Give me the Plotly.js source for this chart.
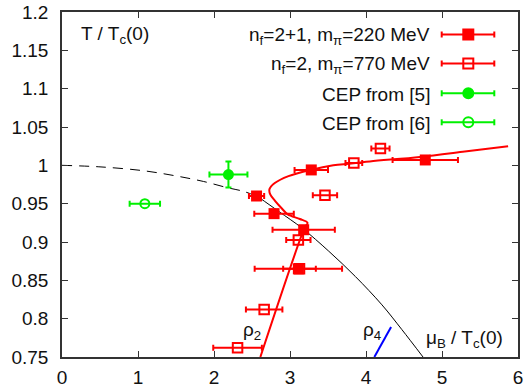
<!DOCTYPE html>
<html>
<head>
<meta charset="utf-8">
<script src="https://cdn.plot.ly/plotly-3.0.1.min.js"></script>
<style>
html,body{margin:0;padding:0;background:#fff;}
#chart{width:524px;height:388px;}
</style>
</head>
<body>
<div id="chart"></div>
<script>
// ---- data ----
// n_f = 2+1, m_pi = 220 MeV (filled squares)
const nf21Mu    = [2.56, 2.79, 3.18, 3.11, 3.28, 4.78];
const nf21T     = [0.960, 0.937, 0.916, 0.865, 0.994, 1.007];
const nf21MuErr = [0.10, 0.26, 0.41, 0.575, 0.22, 0.43];

// n_f = 2, m_pi = 770 MeV (open squares)
const nf2Mu    = [2.31, 2.66, 3.125, 3.11, 3.46, 3.84, 4.19];
const nf2T     = [0.762, 0.812, 0.865, 0.9025, 0.961, 1.003, 1.022];
const nf2MuErr = [0.32, 0.24, 0.215, 0.16, 0.16, 0.11, 0.12];

// CEP from [5] (filled circle)
const cep5Mu = [2.19], cep5T = [0.988], cep5MuErr = [0.25], cep5TErr = [0.017];
// CEP from [6] (open circle)
const cep6Mu = [1.09], cep6T = [0.950], cep6MuErr = [0.20];

// red curve (fit)
const redMu = [2.61, 3.19, 3.23, 3.13, 2.97, 2.89, 2.80, 2.74, 2.73, 2.80, 2.98, 3.27, 3.57, 4.05, 4.71, 5.30, 5.87];
const redT  = [0.750, 0.918, 0.925, 0.930, 0.936, 0.944, 0.954, 0.962, 0.969, 0.977, 0.986, 0.994, 1.000, 1.005, 1.011, 1.018, 1.025];

// black dashed curve
const dashMu = [0.00, 0.50, 1.07, 1.51, 1.86, 2.17, 2.39, 2.58];
const dashT  = [1.000, 0.998, 0.993, 0.986, 0.979, 0.971, 0.966, 0.959];

// black solid curve
const solidMu = [2.58, 2.85, 3.16, 3.51, 3.86, 4.21, 4.47, 4.75];
const solidT  = [0.959, 0.940, 0.918, 0.888, 0.855, 0.818, 0.786, 0.750];

// blue segment (rho_4)
const blueMu = [4.11, 4.33];
const blueT  = [0.750, 0.789];

// axis ticks
const xTickVals = [0, 1, 2, 3, 4, 5, 6];
const xTickText = ["0", "1", "2", "3", "4", "5", "6"];
const yTickVals = [0.75, 0.8, 0.85, 0.9, 0.95, 1.0, 1.05, 1.1, 1.15, 1.2];
const yTickText = ["0.75", "0.8", "0.85", "0.9", "0.95", "1", "1.05", "1.1", "1.15", "1.2"];

// legend entries
const legendLabels = [
  "n<sub>f</sub>=2+1, m<sub>π</sub>=220 MeV",
  "n<sub>f</sub>=2, m<sub>π</sub>=770 MeV",
  "CEP from [5]",
  "CEP from [6]"
];
const RED = "#ff0000", GREEN = "#00f000";
const legendColors = [RED, RED, GREEN, GREEN];
const legendSymbols = ["square", "square-open", "circle", "circle-open"];

// ---- layout geometry ----
const W = 524, H = 388;
const M = {l: 62, r: 6, t: 12, b: 31};
const PW = W - M.l - M.r, PH = H - M.t - M.b;
const px = X => (X - M.l) / PW;
const py = Y => (H - M.b - Y) / PH;

const FONT = "Liberation Sans, Arial, Helvetica, sans-serif";
const FS = 19;
const TXT = "#111";

const traces = [
  {x: dashMu, y: dashT, mode: "lines", line: {color: "#000", width: 1, dash: "10px,7px", shape: "spline"}, hoverinfo: "skip"},
  {x: solidMu, y: solidT, mode: "lines", line: {color: "#000", width: 1, shape: "spline"}, hoverinfo: "skip"},
  {x: blueMu, y: blueT, mode: "lines", line: {color: "#0000ff", width: 2}, hoverinfo: "skip"},
  {x: redMu, y: redT, mode: "lines", line: {color: RED, width: 2, shape: "spline", smoothing: 0.9}, hoverinfo: "skip"},
  {x: cep6Mu, y: cep6T, mode: "markers",
   marker: {symbol: "circle-open", size: 9, color: GREEN, line: {color: GREEN, width: 2}},
   error_x: {type: "data", array: cep6MuErr, color: GREEN, thickness: 2, width: 3}},
  {x: cep5Mu, y: cep5T, mode: "markers",
   marker: {symbol: "circle", size: 11, color: GREEN},
   error_x: {type: "data", array: cep5MuErr, color: GREEN, thickness: 2, width: 3},
   error_y: {type: "data", array: cep5TErr, color: GREEN, thickness: 2, width: 3}},
  {x: nf21Mu, y: nf21T, mode: "markers",
   marker: {symbol: "square", size: 11, color: RED},
   error_x: {type: "data", array: nf21MuErr, color: RED, thickness: 2, width: 3}},
  {x: nf2Mu, y: nf2T, mode: "markers",
   marker: {symbol: "square-open", size: 9.5, color: RED, line: {color: RED, width: 2}},
   error_x: {type: "data", array: nf2MuErr, color: RED, thickness: 2, width: 3}}
];

// custom legend (text left, sample right)
const shapes = [];
const annotations = [];
const rowY = [34.5, 63.5, 93.3, 122.3];
const lx0 = 441.7, lx1 = 494.3, lxm = 468.3;
legendLabels.forEach((lab, i) => {
  const Y = rowY[i], c = legendColors[i], s = legendSymbols[i];
  shapes.push({type: "line", xref: "paper", yref: "paper", x0: px(lx0), x1: px(lx1), y0: py(Y), y1: py(Y), line: {color: c, width: 2}});
  shapes.push({type: "line", xref: "paper", yref: "paper", x0: px(lx0), x1: px(lx0), y0: py(Y - 3), y1: py(Y + 3), line: {color: c, width: 2}});
  shapes.push({type: "line", xref: "paper", yref: "paper", x0: px(lx1), x1: px(lx1), y0: py(Y - 3), y1: py(Y + 3), line: {color: c, width: 2}});
  const r = 5;
  const shp = s.startsWith("square") ? "rect" : "circle";
  const filled = !s.endsWith("open");
  shapes.push({type: shp, xref: "paper", yref: "paper",
    x0: px(lxm - r), x1: px(lxm + r), y0: py(Y + r), y1: py(Y - r),
    fillcolor: filled ? c : "rgba(0,0,0,0)", line: {color: c, width: 2}});
  annotations.push({xref: "paper", yref: "paper", x: px(432), y: py(Y + 1), xanchor: "right", yanchor: "middle",
    text: lab, showarrow: false, font: {family: FONT, size: FS, color: TXT}});
});

annotations.push({xref: "paper", yref: "paper", x: px(79), y: py(35), xanchor: "left", yanchor: "middle",
  text: "T / T<sub>c</sub>(0)", showarrow: false, font: {family: FONT, size: FS, color: TXT}});
annotations.push({xref: "paper", yref: "paper", x: px(424), y: py(339), xanchor: "left", yanchor: "middle",
  text: "μ<sub>B</sub> / T<sub>c</sub>(0)", showarrow: false, font: {family: FONT, size: FS, color: TXT}});
annotations.push({xref: "paper", yref: "paper", x: px(241), y: py(331), xanchor: "left", yanchor: "middle",
  text: "ρ<sub>2</sub>", showarrow: false, font: {family: FONT, size: FS, color: TXT}});
annotations.push({xref: "paper", yref: "paper", x: px(361), y: py(331), xanchor: "left", yanchor: "middle",
  text: "ρ<sub>4</sub>", showarrow: false, font: {family: FONT, size: FS, color: TXT}});

const axisCommon = {
  showline: true, linecolor: "#333", linewidth: 1.5, mirror: "ticks",
  ticks: "inside", ticklen: 6, tickwidth: 1, tickcolor: "#333",
  showgrid: false, zeroline: false, fixedrange: true,
  tickfont: {family: FONT, size: FS, color: TXT}
};

const layout = {
  width: W, height: H,
  margin: M,
  paper_bgcolor: "#fff", plot_bgcolor: "#fff",
  showlegend: false,
  xaxis: Object.assign({}, axisCommon, {range: [0, 6], tickvals: xTickVals, ticktext: xTickText, ticklabelstandoff: 2}),
  yaxis: Object.assign({}, axisCommon, {range: [0.75, 1.2], tickvals: yTickVals, ticktext: yTickText, ticklabelstandoff: 8}),
  shapes: shapes,
  annotations: annotations
};

Plotly.newPlot("chart", traces, layout, {displayModeBar: false});
</script>
</body>
</html>
